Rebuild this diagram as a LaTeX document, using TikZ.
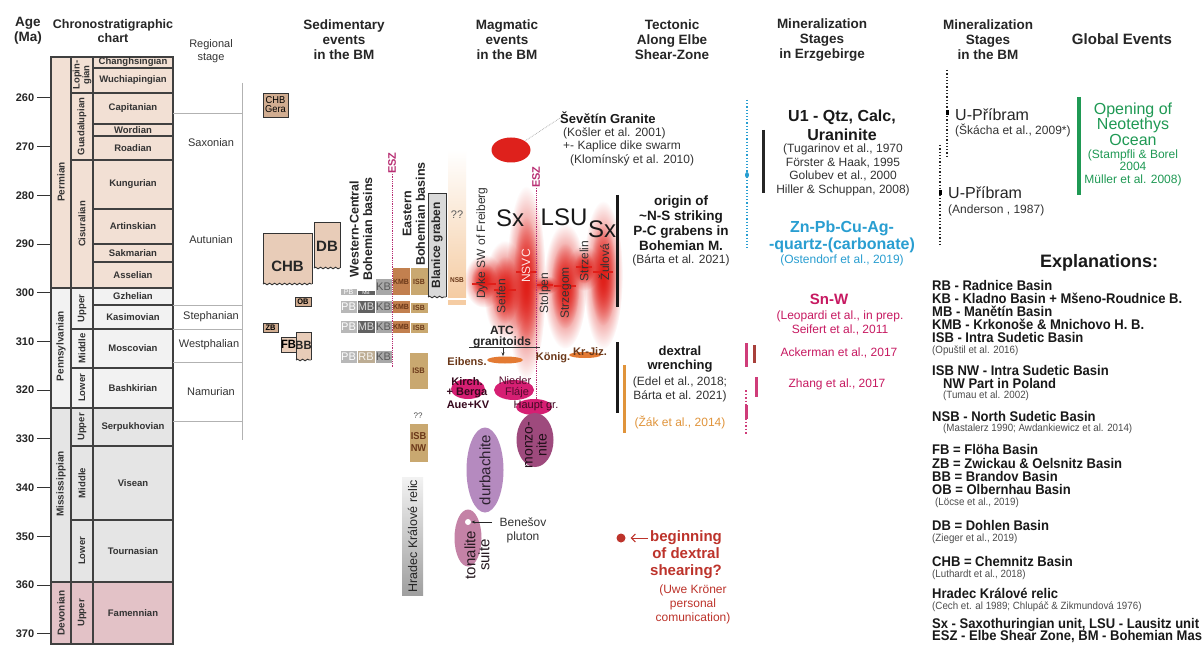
\documentclass[tikz,border=0pt]{standalone}
\usepackage{fontspec}
\setmainfont{Liberation Sans}
\newfontfamily\narrowfont[FakeStretch=0.93]{Liberation Sans}
\usepackage{xcolor}
\usepackage{tikz}
\usetikzlibrary{shapes.geometric, arrows.meta, positioning, fadings, decorations.pathmorphing}
\definecolor{permcol}{rgb}{0.95, 0.88, 0.83}
\definecolor{penncol}{rgb}{0.95, 0.95, 0.95}
\definecolor{misscol}{rgb}{0.90, 0.90, 0.90}
\definecolor{devcol}{rgb}{0.89, 0.76, 0.78}
\definecolor{chartline}{rgb}{0.25, 0.25, 0.25}
\definecolor{tanbox}{rgb}{0.91, 0.80, 0.72}
\definecolor{tandark}{rgb}{0.82, 0.68, 0.57}
\definecolor{pbgrey}{rgb}{0.72, 0.72, 0.72}
\definecolor{mbgrey}{rgb}{0.38, 0.38, 0.38}
\definecolor{kbgrey}{rgb}{0.66, 0.66, 0.66}
\definecolor{rbcol}{rgb}{0.74, 0.68, 0.58}
\definecolor{kmbcol}{rgb}{0.76, 0.50, 0.31}
\definecolor{isbcol}{rgb}{0.79, 0.66, 0.44}
\definecolor{nsbcol}{rgb}{0.96, 0.80, 0.64}
\definecolor{eszpink}{rgb}{0.72, 0.18, 0.45}
\definecolor{blobred}{rgb}{0.88, 0.12, 0.10}
\definecolor{sevred}{rgb}{0.87, 0.13, 0.11}
\definecolor{magpink}{rgb}{0.84, 0.12, 0.45}
\definecolor{granorange}{rgb}{0.89, 0.48, 0.20}
\definecolor{granbrown}{rgb}{0.42, 0.22, 0.10}
\definecolor{monzcol}{rgb}{0.62, 0.29, 0.49}
\definecolor{durbcol}{rgb}{0.71, 0.54, 0.75}
\definecolor{tonacol}{rgb}{0.77, 0.51, 0.65}
\definecolor{zakorange}{rgb}{0.88, 0.58, 0.23}
\definecolor{shearred}{rgb}{0.74, 0.20, 0.17}
\definecolor{zncyan}{rgb}{0.16, 0.62, 0.82}
\definecolor{snwpink}{rgb}{0.78, 0.10, 0.38}
\definecolor{snwdark}{rgb}{0.66, 0.25, 0.23}
\definecolor{tethgreen}{rgb}{0.12, 0.60, 0.33}
\tikzfading[name=blobfade, inner color=transparent!0, outer color=transparent!100]
\tikzstyle{cell} = [draw=chartline, line width=1.1pt]
\tikzstyle{bar} = [line width=3pt]
\tikzstyle{wavy} = [decorate, decoration={snake, amplitude=0.8pt, segment length=5pt}]

\begin{document}
\begin{tikzpicture}[x=1pt, y=-1pt,
    every node/.style={inner sep=0pt},
    hdr/.style={font=\bfseries\fontsize{13.5}{15}\selectfont, align=center, text=black!85},
    stagelbl/.style={font=\bfseries\fontsize{9.5}{10}\selectfont, text=black!80},
    epochlbl/.style={font=\bfseries\fontsize{9.5}{8.5}\selectfont, text=black!80, rotate=90, align=center},
    periodlbl/.style={font=\bfseries\fontsize{10}{10}\selectfont, text=black!80, rotate=90},
    agelbl/.style={font=\bfseries\fontsize{11}{11}\selectfont, text=black!85},
    reglbl/.style={font=\fontsize{11}{13}\selectfont, text=black!80, align=center},
    regline/.style={draw=black!30, line width=0.6pt},
    sedbox/.style={draw=black!80, line width=0.9pt, align=center},
    sedlbl/.style={font=\bfseries\fontsize{15}{15}\selectfont, text=black!85},
    wcbox/.style={draw=white, line width=0.4pt, minimum width=17.5pt},
    basinlbl/.style={font=\bfseries\fontsize{12.5}{13.5}\selectfont, rotate=90, align=center, text=black!85},
    eszlbl/.style={font=\bfseries\fontsize{11}{11}\selectfont, rotate=90, text=eszpink},
    eszline/.style={eszpink, densely dotted, line width=0.8pt},
    magtxt/.style={font=\fontsize{12}{12}\selectfont, rotate=90, text=black!80},
    unitlbl/.style={font=\fontsize{24}{24}\selectfont, text=black!90},
    grantxt/.style={font=\bfseries\fontsize{11}{11}\selectfont, text=granbrown},
    pinktxt/.style={font=\bfseries\fontsize{11}{11}\selectfont, text=black!75!magpink},
    reftxt/.style={font=\fontsize{12}{14}\selectfont, align=center, text=black!80},
    boldtxt/.style={font=\bfseries\fontsize{13.5}{15}\selectfont, align=center, text=black!90},
    lgmain/.style={font=\narrowfont\bfseries\fontsize{14}{13}\selectfont, anchor=west, text=black!90},
    lgref/.style={font=\narrowfont\fontsize{10.5}{12}\selectfont, anchor=west, text=black!70}]
\fill[white] (0,0) rectangle (1202,647);
\useasboundingbox (0,0) rectangle (1202,647);

\node[hdr] (hage) at (28,31) {Age\\(Ma)};
\node[hdr, font=\bfseries\fontsize{12.5}{14}\selectfont] (hchrono) at (113,31) {Chronostratigraphic\\chart};
\node[reglbl] (hregion) at (211,51) {Regional\\stage};
\node[hdr] (hsed) at (344,40) {Sedimentary\\events\\in the BM};
\node[hdr] (hmag) at (507,40) {Magmatic\\events\\in the BM};
\node[hdr] (htect) at (672,40) {Tectonic\\Along Elbe\\Shear-Zone};
\node[hdr] (hmine) at (822,40) {Mineralization\\Stages\\in Erzgebirge};
\node[hdr] (hminbm) at (988,40) {Mineralization\\Stages\\in the BM};
\node[hdr, font=\bfseries\fontsize{15}{15}\selectfont] (hglobal) at (1122,39) {Global Events};

\foreach \yt/\yb/\nm/\cl in {57/68/Changhsingian/permcol, 68/93/Wuchiapingian/permcol, 93/124/Capitanian/permcol, 124/136/Wordian/permcol, 136/160/Roadian/permcol, 160/209/Kungurian/permcol, 209/244/Artinskian/permcol, 244/262/Sakmarian/permcol, 262/288/Asselian/permcol, 288/305/Gzhelian/penncol, 305/329/Kasimovian/penncol, 329/368/Moscovian/penncol, 368/408/Bashkirian/penncol, 408/446/Serpukhovian/misscol, 446/520/Visean/misscol, 520/582/Tournasian/misscol, 582/644/Famennian/devcol}
  {\filldraw[cell, fill=\cl] (93,\yt) rectangle (173,\yb);
   \node[stagelbl] (st\nm) at (133,{(\yt+\yb)/2}) {\nm};}
\foreach \yt/\yb/\nm/\cl [count=\i] in {57/93/{Lopin-\\gian}/permcol, 93/160/Guadalupian/permcol, 160/288/Cisuralian/permcol, 288/329/Upper/penncol, 329/368/Middle/penncol, 368/408/Lower/penncol, 408/446/Upper/misscol, 446/520/Middle/misscol, 520/582/Lower/misscol, 582/644/Upper/devcol}
  {\filldraw[cell, fill=\cl] (71,\yt) rectangle (93,\yb);
   \node[epochlbl] (ep\i) at (82,{(\yt+\yb)/2}) {\nm};}
\foreach \yt/\yb/\yc/\nm/\cl [count=\i] in {57/288/182/Permian/permcol, 288/408/346/Pennsylvanian/penncol, 408/582/484/Mississippian/misscol, 582/644/613/Devonian/devcol}
  {\filldraw[cell, fill=\cl] (51,\yt) rectangle (71,\yb);
   \node[periodlbl] (per\i) at (61,\yc) {\nm};}
\foreach \a in {260,270,...,370}
  {\node[agelbl] (age\a) at (25,{98+4.87*(\a-260)}) {\a};
   \draw[black!80, line width=1pt] ([xshift=3pt]age\a.east) -- ++(13,0);}

\draw[regline] (242,83) -- (242,440);
\foreach \yy in {113,305,329,362,421} \draw[regline] (173,\yy) -- (242,\yy);
\node[reglbl] (saxon) at (211,143) {Saxonian};
\node[reglbl] (autun) at (211,240) {Autunian};
\node[reglbl] (stephan) at (211,317) {Stephanian};
\node[reglbl] (westph) at (209,345) {Westphalian};
\node[reglbl] (namur) at (211,392) {Namurian};

\node[sedbox, fill=tandark, minimum width=25pt, minimum height=24pt, font=\narrowfont\fontsize{10}{9}\selectfont] (chbgera) at (275.5,105) {CHB\\Gera};
\fill[tanbox] (263,233) rectangle (312,284);
\draw[sedbox] (263,284) |- (312,233) -- (312,284);
\draw[sedbox, wavy] (263,284) -- (312,284);
\node[sedlbl] (chb) at (287.5,266) {CHB};
\fill[tanbox] (314,222) rectangle (340,268);
\draw[sedbox] (314,268) |- (340,222) -- (340,268);
\draw[sedbox, wavy] (314,268) -- (340,268);
\node[sedlbl] (db) at (327,246) {DB};
\node[sedbox, fill=tandark, minimum width=16pt, minimum height=9pt, font=\narrowfont\bfseries\fontsize{8}{8}\selectfont] (ob) at (303,301.5) {OB};
\node[sedbox, fill=tandark, minimum width=15pt, minimum height=9pt, font=\narrowfont\bfseries\fontsize{8}{8}\selectfont] (zb) at (270.5,327.5) {ZB};
\node[sedbox, fill=tanbox, minimum width=15pt, minimum height=15pt, font=\narrowfont\bfseries\fontsize{12}{12}\selectfont] (fb) at (288.5,344.5) {FB};
\fill[tanbox] (296,332) rectangle (311,360);
\draw[sedbox] (296,360) |- (311,332) -- (311,360);
\draw[sedbox, wavy] (296,360) -- (311,360);
\node[font=\narrowfont\bfseries\fontsize{12}{12}\selectfont, text=black!85] (bb) at (303.5,345) {BB};

\node[wcbox, fill=pbgrey, minimum height=7pt, font=\fontsize{7}{7}\selectfont, text=white] (pb1) at (348.5,292) {PB};
\node[wcbox, fill=mbgrey, minimum height=5pt, font=\fontsize{5}{5}\selectfont, text=white] (mb1) at (366,293) {MB};
\node[wcbox, fill=kbgrey, minimum height=17pt, font=\fontsize{11}{11}\selectfont, text=black!65] (kb1) at (383.5,287) {KB};
\node[wcbox, fill=kmbcol, minimum height=28pt, font=\narrowfont\bfseries\fontsize{7.5}{7}\selectfont, text=granbrown] (kmb1) at (401,281.5) {KMB};
\node[wcbox, fill=isbcol, minimum height=28pt, font=\narrowfont\bfseries\fontsize{7.5}{7}\selectfont, text=granbrown] (isb1) at (419,281.5) {ISB};
\foreach \yc/\r in {306.5/2, 326.5/3}
  {\node[wcbox, fill=pbgrey, minimum height=13pt, font=\fontsize{11}{11}\selectfont, text=white] (pb\r) at (348.5,\yc) {PB};
   \node[wcbox, fill=mbgrey, minimum height=13pt, font=\fontsize{11}{11}\selectfont, text=black!15] (mb\r) at (366,\yc) {MB};
   \node[wcbox, fill=kbgrey, minimum height=13pt, font=\fontsize{11}{11}\selectfont, text=black!65] (kb\r) at (383.5,\yc) {KB};
   \node[wcbox, fill=kmbcol, minimum height=13pt, font=\narrowfont\bfseries\fontsize{7.5}{7}\selectfont, text=granbrown] (kmb\r) at (401,\yc) {KMB};
   \node[wcbox, fill=isbcol, minimum height=11pt, font=\narrowfont\bfseries\fontsize{7.5}{7}\selectfont, text=granbrown] (isb\r) at (419,\yc+1) {ISB};}
\node[wcbox, fill=pbgrey, minimum height=13pt, font=\fontsize{11}{11}\selectfont, text=white] (pb4) at (348.5,356.5) {PB};
\node[wcbox, fill=rbcol, minimum height=13pt, font=\fontsize{11}{11}\selectfont, text=white!85!rbcol] (rb4) at (366,356.5) {RB};
\node[wcbox, fill=kbgrey, minimum height=13pt, font=\fontsize{11}{11}\selectfont, text=black!65] (kb4) at (383.5,356.5) {KB};
\node[wcbox, fill=isbcol, minimum width=19pt, minimum height=37pt, font=\narrowfont\bfseries\fontsize{8}{8}\selectfont, text=granbrown] (isbbig) at (418.5,370.5) {ISB};
\node[font=\fontsize{8}{8}\selectfont, text=black!70] (isbq) at (418,416) {??};
\node[wcbox, fill=isbcol, minimum width=19pt, minimum height=39pt, align=center, font=\narrowfont\bfseries\fontsize{10}{12}\selectfont, text=granbrown] (isbnw) at (418.5,442.5) {ISB\\NW};
\shade[top color=gray!10, bottom color=gray!75] (402,477) rectangle (423,595);
\node[rotate=90, font=\fontsize{12.5}{12.5}\selectfont, text=black!85] (hradec) at (412.5,536) {Hradec Králové relic};
\fill[gray!30] (428,193) rectangle (446,297);
\draw[sedbox] (428,297) |- (446,193) -- (446,297);
\draw[sedbox, wavy] (428,297) -- (446,297);
\node[rotate=90, font=\bfseries\fontsize{12}{12}\selectfont, text=black!85] (blanice) at (437,245) {Blanice graben};
\shade[top color=white, bottom color=nsbcol] (448,150) rectangle (466,297);
\fill[nsbcol] (448,300) rectangle (466,305);
\node[font=\fontsize{11}{11}\selectfont, text=black!65] (nsbq) at (457,215) {??};
\node[font=\narrowfont\bfseries\fontsize{7}{7}\selectfont, text=granbrown] (nsb) at (457,280) {NSB};
\node[basinlbl] (wcb) at (361,229) {Western-Central\\Bohemian basins};
\node[basinlbl] (ebb) at (414,214) {Eastern\\Bohemian basins};
\node[eszlbl] (esz1) at (392,163) {ESZ};
\coordinate (esz1end) at (392,368);
\draw[eszline] (esz1.west) -- (esz1end);

\foreach \cx/\cy/\rx/\ry in {484/281/11/14, 505/290/12/26, 526/283/11/51, 545/285/8/5, 565/286/12/33, 584/268/9/12, 603/275/11/39}
  {\fill[blobred, path fading=blobfade] (\cx,\cy) ellipse ({1.8*\rx} and {1.9*\ry});
   \fill[blobred, path fading=blobfade] (\cx,\cy) ellipse ({1.2*\rx} and {1.3*\ry});}
\foreach \xa/\xb/\yy in {472/496/284, 494/516/290, 516/536/272, 537/553/285, 554/576/286, 576/592/267, 593/613/272}
  \draw[blobred, line width=1.6pt] (\xa,\yy) -- (\xb,\yy);
\node[ellipse, fill=sevred, minimum width=39pt, minimum height=25pt] (sev) at (511,150) {};
\node[font=\bfseries\fontsize{13}{13}\selectfont, anchor=west, text=black!90] (sevhead) at (560,118) {Ševětín Granite};
\node[font=\fontsize{12}{13.5}\selectfont, anchor=west, align=left, text=black!80] (sevref) at (563,146.5) {(Košler et al. 2001)\\+- Kaplice dike swarm\\\hspace*{7pt}(Klomínský et al. 2010)};
\draw[gray!70, densely dotted, line width=0.7pt] (sev.north east) -- (sevhead.west);
\node[eszlbl] (esz2) at (536,177) {ESZ};
\coordinate (esz2end) at (536,413);
\draw[eszline] (esz2.west) -- (esz2end);
\node[unitlbl] (sx1) at (510,218) {Sx};
\node[unitlbl] (lsu) at (564,217) {LSU};
\node[unitlbl] (sx2) at (602,229) {Sx};
\node[magtxt] (dyke) at (482,243) {Dyke SW of Freiberg};
\node[magtxt] (seifen) at (501,296) {Seifen};
\node[magtxt, text=white!90!red] (nsvc) at (526,266) {NSVC};
\node[magtxt] (stolpen) at (545,293) {Stolpen};
\node[magtxt] (strzegom) at (566,293) {Strzegom};
\node[magtxt] (strzelin) at (584,261) {Strzelin};
\node[magtxt] (zulova) at (604,262) {Žulová};
\draw[bar, black!90] (617,195) -- (617,307);
\node[boldtxt] (origin) at (681,223) {origin of\\\textasciitilde N-S striking\\P-C grabens in\\Bohemian M.};
\node[reftxt] (bartaref) at (681,260) {(Bárta et al. 2021)};

\node[font=\bfseries\fontsize{12}{11}\selectfont, align=center, text=black!85] (atc) at (502,337) {ATC\\granitoids};
\coordinate (atcL) at (469,347);
\coordinate (atcR) at (540,347);
\coordinate (atcM) at (503,347);
\draw[black!80, line width=0.8pt] (atcL) -- (atcR);
\node[ellipse, fill=granorange, minimum width=36pt, minimum height=7pt] (eibensE) at (505,360) {};
\draw[-{Stealth[length=4pt, width=3pt]}, black!80, line width=0.7pt] (atcM) -- (eibensE.north -| atcM);
\node[grantxt] (eibens) at (467,362) {Eibens.};
\node[ellipse, fill=granorange, minimum width=32pt, minimum height=6pt] (konigE) at (585,355) {};
\node[grantxt] (konig) at (553,358) {König.};
\node[grantxt] (krjiz) at (590,352) {Kr-Jiz.};
\node[ellipse, fill=magpink, minimum width=34pt, minimum height=20pt] (kirchE) at (468,389) {};
\node[ellipse, fill=magpink, minimum width=40pt, minimum height=20pt] (niederE) at (514,390) {};
\node[ellipse, fill=magpink, minimum width=36pt, minimum height=16pt] (hauptE) at (534,407) {};
\node[ellipse, fill=monzcol, minimum width=37pt, minimum height=54pt] (monzE) at (535,440) {};
\node[ellipse, fill=durbcol, minimum width=37pt, minimum height=85pt] (durbE) at (485,470) {};
\node[ellipse, fill=tonacol, minimum width=27pt, minimum height=57pt] (tonaE) at (468,538) {};
\node[pinktxt] (kirch) at (467,382) {Kirch.};
\node[pinktxt] (berga) at (467,393) {+ Berga};
\node[pinktxt] (aue) at (468,405) {Aue+KV};
\node[font=\fontsize{11}{11}\selectfont, align=center, text=black!60!magpink] (nieder) at (515,387.5) {Nieder\\\hspace*{4pt}Fláje};
\node[font=\fontsize{11}{11}\selectfont, text=black!70!magpink] (haupt) at (536,406) {Haupt gr.};
\node[font=\fontsize{14}{14}\selectfont, rotate=90, align=center, text=black!80!monzcol] (monz) at (536,445) {monzo-\\nite};
\node[font=\fontsize{15}{15}\selectfont, rotate=90, text=black!75!durbcol] (durb) at (485,470) {durbachite};
\node[font=\fontsize{15}{14}\selectfont, rotate=90, align=center, text=black!80!tonacol] (tona) at (477,555) {tonalite\\suite};
\node[circle, fill=white, minimum size=6pt] (benesdot) at (468,522) {};
\coordinate (benestail) at (492,522);
\draw[-{Stealth[length=4pt, width=3pt]}, black!85, line width=0.8pt] (benestail) -- (benesdot.east);
\node[reftxt] (benes) at (523,530) {Benešov\\pluton};

\draw[bar, black!90] (617,342) -- (617,413);
\draw[bar, zakorange] (624,365) -- (624,433);
\node[font=\bfseries\fontsize{13}{14}\selectfont, align=center, text=black!90] (dextral) at (680,359) {dextral\\wrenching};
\node[reftxt] (edelref) at (680,389) {(Edel et al., 2018;\\Bárta et al. 2021)};
\node[reftxt, text=zakorange] (zakref) at (680,422) {(Žák et al., 2014)};
\node[circle, fill=shearred, minimum size=9pt] (shdot) at (621,538) {};
\node[font=\bfseries\fontsize{15}{17}\selectfont, text=shearred] (shbeg) at (686,538) {beginning};
\node[font=\bfseries\fontsize{15}{17}\selectfont, align=center, text=shearred] (shrest) at (686,563.5) {of dextral\\shearing?};
\node[reftxt, text=shearred] (kronerref) at (693,604) {(Uwe Kröner\\personal\\comunication)};
\draw[-{Straight Barb[length=4pt]}, shearred, line width=1pt] ([xshift=-2pt]shbeg.west) -- ([xshift=5pt]shdot.east);

\draw[zncyan, dotted, line width=1.2pt] (747,100) -- (747,250);
\fill[zncyan] (747,175) ellipse (2 and 3);
\draw[bar, black!85] (763,130) -- (763,193);
\node[font=\bfseries\fontsize{16}{19}\selectfont, align=center, text=black!90] (u1) at (842,125) {U1 - Qtz, Calc,\\Uraninite};
\node[font=\fontsize{12}{13.5}\selectfont, align=center, text=black!80] (u1ref) at (843,170) {(Tugarinov et al., 1970\\Förster \& Haak, 1995\\Golubev et al., 2000\\Hiller \& Schuppan, 2008)};
\node[font=\bfseries\fontsize{16}{17}\selectfont, align=center, text=zncyan] (znpb) at (842,236.5) {Zn-Pb-Cu-Ag-\\-quartz-(carbonate)};
\node[reftxt, text=zncyan] (znref) at (842,260) {(Ostendorf et al., 2019)};
\node[font=\bfseries\fontsize{15}{15}\selectfont, text=snwpink] (snw) at (829,299) {Sn-W};
\node[reftxt, text=snwpink] (snwref) at (840,323) {(Leopardi et al., in prep.\\Seifert et al., 2011};
\node[reftxt, text=snwpink] (ackref) at (839,353) {Ackerman et al., 2017};
\node[reftxt, text=snwpink] (zhangref) at (837,384) {Zhang et al., 2017};
\draw[bar, snwpink!85] (746,343) -- (746,367);
\draw[bar, snwdark] (754,345) -- (754,363);
\draw[bar, snwpink!85] (756,377) -- (756,397);
\draw[snwpink!85, dotted, line width=1.5pt] (746,390) -- (746,435);
\draw[bar, snwpink!85] (746,405) -- (746,419);

\draw[black!85, dotted, line width=1.3pt] (947,70) -- (947,157);
\fill[black] (945.5,110.5) rectangle (948.5,115.5);
\node[font=\fontsize{16}{16}\selectfont, anchor=west, text=black!85] (upr1) at (955,115) {U-Příbram};
\node[font=\fontsize{12}{12}\selectfont, anchor=west, text=black!80] (upr1ref) at (955,130) {(Škácha et al., 2009*)};
\draw[black!85, dotted, line width=1.3pt] (940,145) -- (940,245);
\fill[black] (938.5,190.5) rectangle (941.5,195.5);
\node[font=\fontsize{16}{16}\selectfont, anchor=west, text=black!85] (upr2) at (948,193) {U-Příbram};
\node[font=\fontsize{12}{12}\selectfont, anchor=west, text=black!80] (upr2ref) at (948,210) {(Anderson , 1987)};
\draw[bar, tethgreen, line width=3.5pt] (1079,97) -- (1079,195);
\node[font=\fontsize{16}{15.5}\selectfont, align=center, text=tethgreen] (neotethys) at (1133,124) {Opening of\\Neotethys\\Ocean};
\node[font=\fontsize{12}{12.5}\selectfont, align=center, text=tethgreen] (tethref) at (1133,167.5) {(Stampfli \& Borel\\2004\\Müller et al. 2008)};

\node[font=\bfseries\fontsize{18}{18}\selectfont, text=black!90] (explain) at (1099,263) {Explanations:};
\node[lgmain] (lgRB) at (932,285) {RB - Radnice Basin};
\node[lgmain] (lgKB) at (932,298) {KB - Kladno Basin + Mšeno-Roudnice B.};
\node[lgmain] (lgMB) at (932,311) {MB - Manětín Basin};
\node[lgmain] (lgKMB) at (932,324) {KMB - Krkonoše \& Mnichovo H. B.};
\node[lgmain] (lgISB) at (932,337) {ISB - Intra Sudetic Basin};
\node[lgref] (lgISBref) at (932,351) {(Opuštil et al. 2016)};
\node[lgmain] (lgISBNW) at (932,370) {ISB NW - Intra Sudetic Basin};
\node[lgmain] (lgISBNWb) at (943,383) {NW Part in Poland};
\node[lgref] (lgISBNWref) at (943,396) {(Tumau et al. 2002)};
\node[lgmain] (lgNSB) at (932,416) {NSB - North Sudetic Basin};
\node[lgref] (lgNSBref) at (943,429) {(Mastalerz 1990; Awdankiewicz et al. 2014)};
\node[lgmain] (lgFB) at (932,449) {FB = Flöha Basin};
\node[lgmain] (lgZB) at (932,463) {ZB = Zwickau \& Oelsnitz Basin};
\node[lgmain] (lgBB) at (932,476) {BB = Brandov Basin};
\node[lgmain] (lgOB) at (932,489) {OB = Olbernhau Basin};
\node[lgref] (lgOBref) at (935,503) {(Löcse et al., 2019)};
\node[lgmain] (lgDB) at (932,525) {DB = Dohlen Basin};
\node[lgref] (lgDBref) at (932,539) {(Zieger et al., 2019)};
\node[lgmain] (lgCHB) at (932,561) {CHB = Chemnitz Basin};
\node[lgref] (lgCHBref) at (932,575) {(Luthardt et al., 2018)};
\node[lgmain] (lgHK) at (932,593) {Hradec Králové relic};
\node[lgref] (lgHKref) at (932,607) {(Cech et. al 1989; Chlupáč \& Zikmundová 1976)};
\node[lgmain] (lgSx) at (932,625) {Sx - Saxothuringian unit, LSU - Lausitz unit};
\node[lgmain] (lgESZ) at (932,637) {ESZ - Elbe Shear Zone, BM - Bohemian Mas};
\end{tikzpicture}
\end{document}
